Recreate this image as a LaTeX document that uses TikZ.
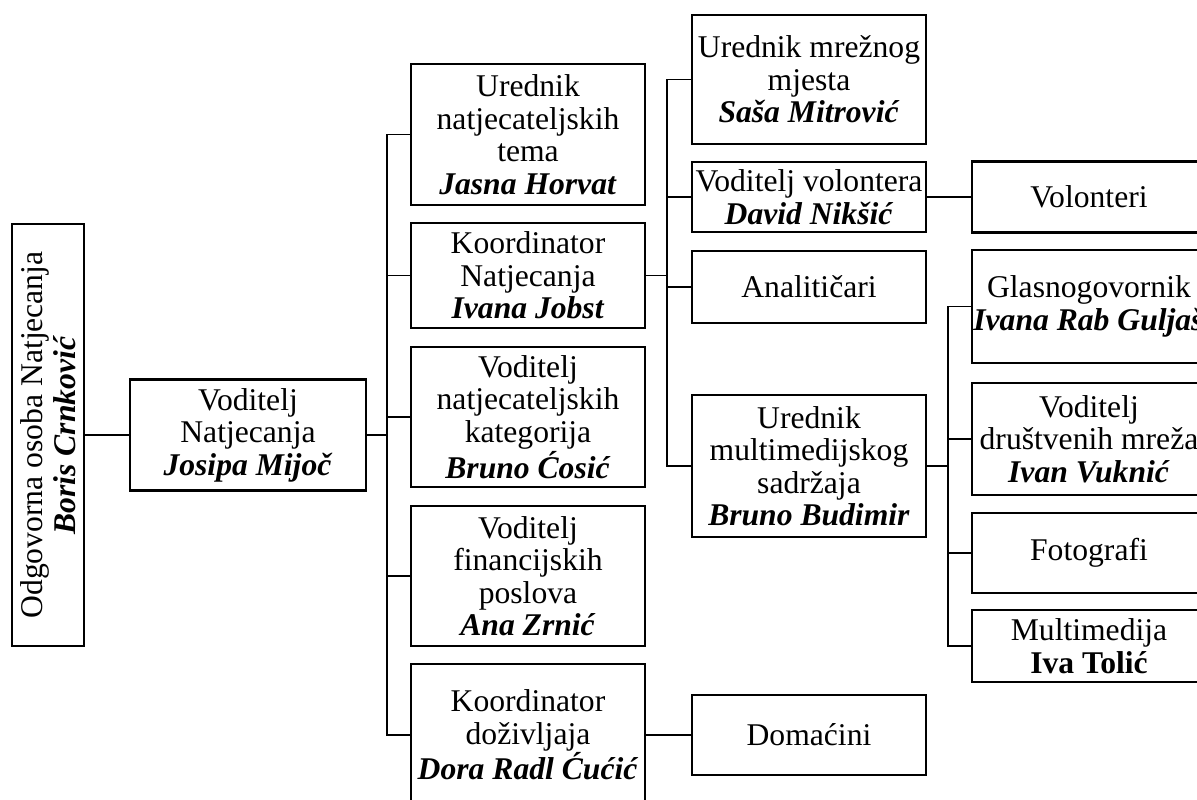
\documentclass[tikz,border=0pt]{standalone}
\usepackage{fontspec}
\setmainfont{Liberation Serif}
\newcommand{\ime}[1]{\textbf{\textit{#1}}}

\begin{document}
\begin{tikzpicture}[x=0.02cm, y=-0.02cm, font=\fontsize{18}{18.5}\selectfont,
  okvir/.style={draw, line width=1.3pt, align=center, inner sep=0pt, minimum width=4.68cm},
  veza/.style={line width=0.6pt}]

\useasboundingbox (0,0) rectangle (1197,800);
\clip (0,0) rectangle (1197,800);

% Odgovorna osoba (okomito)
\node[okvir, rotate=90, minimum width=8.44cm, minimum height=1.44cm] (odg) at (48,435) {Odgovorna osoba Natjecanja\\\ime{Boris Crnković}};

% Voditelj Natjecanja
\node[okvir, minimum width=4.72cm, minimum height=2.22cm] (vod) at (248,435) {Voditelj\\Natjecanja\\\ime{Josipa Mijoč}};

% Drugi stupac
\node[okvir, minimum height=2.82cm] (tema) at (528,134.5) {Urednik\\natjecateljskih\\tema\\\ime{Jasna Horvat}};
\node[okvir, minimum height=2.1cm] (koord) at (528,275.5) {Koordinator\\Natjecanja\\\ime{Ivana Jobst}};
\node[okvir, minimum height=2.8cm] (kat) at (528,417) {Voditelj\\natjecateljskih\\kategorija\\\ime{Bruno Ćosić}};
\node[okvir, minimum height=2.8cm] (fin) at (528,576) {Voditelj\\financijskih\\poslova\\\ime{Ana Zrnić}};
\node[okvir, minimum height=2.84cm] (dozh) at (528,735) {Koordinator\\doživljaja\\\ime{Dora Radl Ćućić}};

% Treci stupac
\node[okvir, minimum height=2.58cm] (mrez) at (809,79.5) {Urednik mrežnog\\mjesta\\\ime{Saša Mitrović}};
\node[okvir, minimum height=1.4cm] (volon) at (809,197) {Voditelj volontera\\\ime{David Nikšić}};
\node[okvir, minimum height=1.44cm] (anal) at (809,287) {Analitičari};
\node[okvir, minimum height=2.84cm] (multi) at (809,466) {Urednik\\multimedijskog\\sadržaja\\\ime{Bruno Budimir}};
\node[okvir, minimum height=1.6cm] (doma) at (809,735) {Domaćini};

% Cetvrti stupac (odrezan desno)
\node[okvir, minimum height=1.42cm] (volonteri) at (1089,197) {Volonteri};
\node[okvir, minimum height=2.26cm] (glas) at (1089,306.5) {Glasnogovornik\\\ime{Ivana Rab Guljaš}};
\node[okvir, minimum height=2.24cm] (drus) at (1089,439) {Voditelj\\društvenih mreža\\\ime{Ivan Vuknić}};
\node[okvir, minimum height=1.6cm] (foto) at (1089,553) {Fotografi};
\node[okvir, minimum height=1.44cm] (mmed) at (1089,646) {Multimedija\\\textbf{Iva Tolić}};

% Veze
\draw[veza] (odg) -- (vod);

\coordinate (t1) at (387,435);
\draw[veza] (vod) -- (t1);
\draw[veza] (t1) |- (tema.west);
\draw[veza] (t1) |- (koord.west);
\draw[veza] (t1) |- (kat.west);
\draw[veza] (t1) |- (fin.west);
\draw[veza] (t1) |- (dozh.west);

\coordinate (t2) at (667,275.5);
\draw[veza] (koord) -- (t2);
\draw[veza] (t2) |- (mrez.west);
\draw[veza] (t2) |- (volon.west);
\draw[veza] (t2) |- (anal.west);
\draw[veza] (t2) |- (multi.west);

\coordinate (t3) at (948,466);
\draw[veza] (multi) -- (t3);
\draw[veza] (t3) |- (glas.west);
\draw[veza] (t3) |- (drus.west);
\draw[veza] (t3) |- (foto.west);
\draw[veza] (t3) |- (mmed.west);

\draw[veza] (volon) -- (volonteri);
\draw[veza] (dozh) -- (doma);

\end{tikzpicture}
\end{document}
